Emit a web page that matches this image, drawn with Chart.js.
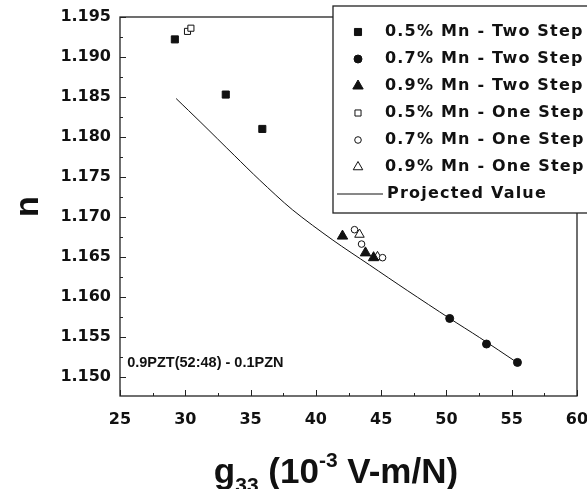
<!DOCTYPE html>
<html>
<head>
<meta charset="utf-8">
<script src="https://cdn.jsdelivr.net/npm/chart.js@4/dist/chart.umd.min.js"></script>
<style>
  html, body { margin: 0; padding: 0; background: #fff; }
  #wrap { width: 587px; height: 489px; }
</style>
</head>
<body>
<div id="wrap"><canvas id="grafica"></canvas></div>
<script>
// values
var nombres = ['0.5% Mn - Two Step', '0.7% Mn - Two Step', '0.9% Mn - Two Step',
               '0.5% Mn - One Step', '0.7% Mn - One Step', '0.9% Mn - One Step', 'Projected Value'];

var g33_two05 = [29.2, 33.1, 35.9];
var n_two05   = [1.1922, 1.1853, 1.1810];
var g33_two07 = [50.25, 53.07, 55.44];
var n_two07   = [1.1573, 1.1541, 1.1518];
var g33_two09 = [42.04, 43.80, 44.42];
var n_two09   = [1.1676, 1.1655, 1.1649];
var g33_one05 = [30.17, 30.43];
var n_one05   = [1.1932, 1.1936];
var g33_one07 = [42.96, 43.50, 45.11];
var n_one07   = [1.1684, 1.1666, 1.1649];
var g33_one09 = [43.34, 44.72];
var n_one09   = [1.1678, 1.1650];
var g33_proj  = [29.3, 31.2, 33.75, 35.7, 38.2, 41.3, 44.1, 47.0, 50.25, 52.55, 55.4];
var n_proj    = [1.1848, 1.1818, 1.1777, 1.1746, 1.1709, 1.1671, 1.1640, 1.1608, 1.1573, 1.1549, 1.1518];

var xTicks = [25, 30, 35, 40, 45, 50, 55, 60];
var yTicks = [1.150, 1.155, 1.160, 1.165, 1.170, 1.175, 1.180, 1.185, 1.190, 1.195];
var nota = '0.9PZT(52:48) - 0.1PZN';

function pares(xs, ys) {
	return xs.map(function(x, i) { return {x: x, y: ys[i]}; });
}

var negro = '#111';

// frame, inward ticks, titles, note and legend
var extras = {
	id: 'extras',
	afterDraw: function(chart) {
		var ctx = chart.ctx;
		var a = chart.chartArea;
		var sx = chart.scales.x, sy = chart.scales.y;
		ctx.save();
		ctx.strokeStyle = '#222';
		ctx.lineWidth = 1.3;
		ctx.strokeRect(a.left, a.top, a.right - a.left, a.bottom - a.top);

		// ticks x
		ctx.lineWidth = 1;
		for (var v = 25; v <= 60.001; v += 2.5) {
			var px = Math.round(sx.getPixelForValue(v)) + 0.5;
			var len = (Math.abs(v / 5 - Math.round(v / 5)) < 1e-6) ? 6 : 3;
			ctx.beginPath(); ctx.moveTo(px, a.bottom); ctx.lineTo(px, a.bottom - len); ctx.stroke();
		}
		// ticks y
		for (var k = 0; k <= 18; k++) {
			var val = 1.150 + k * 0.0025;
			var py = Math.round(sy.getPixelForValue(val)) + 0.5;
			var l2 = (k % 2 === 0) ? 6 : 3;
			ctx.beginPath(); ctx.moveTo(a.left, py); ctx.lineTo(a.left + l2, py); ctx.stroke();
		}

		// note
		ctx.fillStyle = negro;
		ctx.font = 'bold 14.5px "Liberation Sans"';
		ctx.textBaseline = 'middle';
		ctx.textAlign = 'left';
		ctx.fillText(nota, sx.getPixelForValue(25.55), sy.getPixelForValue(1.1517));

		// y title
		ctx.save();
		ctx.translate(29, (a.top + a.bottom) / 2);
		ctx.rotate(-Math.PI / 2);
		ctx.textAlign = 'center';
		ctx.font = 'bold 34px "Liberation Sans"';
		ctx.fillText('n', 0, 0);
		ctx.restore();

		// x title with sub and superscript
		var big = 'bold 35px "Liberation Sans"';
		var small = 'bold 21px "Liberation Sans"';
		var partes = [['g', big, 0], ['33', small, 9], [' (10', big, 0], ['-3', small, -16], [' V-m/N)', big, 0]];
		var total = 0;
		partes.forEach(function(p) { ctx.font = p[1]; total += ctx.measureText(p[0]).width; });
		var cx = 336 - total / 2;
		var base = 483;
		ctx.textBaseline = 'alphabetic';
		partes.forEach(function(p) {
			ctx.font = p[1];
			ctx.fillText(p[0], cx, base + p[2]);
			cx += ctx.measureText(p[0]).width;
		});

		// legend
		var lx = 333, ly = 6, lw = 400, lh = 207;
		ctx.fillStyle = '#fff';
		ctx.fillRect(lx, ly, lw, lh);
		ctx.strokeStyle = '#222';
		ctx.lineWidth = 1.3;
		ctx.strokeRect(lx, ly, lw, lh);
		ctx.font = 'bold 16px "DejaVu Sans"';
		ctx.textBaseline = 'middle';
		chart.data.datasets.forEach(function(ds, i) {
			var ry = 32 + i * 27;
			if (ds.showLine) {
				ctx.strokeStyle = negro; ctx.lineWidth = 1;
				ctx.beginPath(); ctx.moveTo(lx + 4, ry); ctx.lineTo(lx + 50, ry); ctx.stroke();
			} else {
				ctx.fillStyle = ds.backgroundColor; ctx.strokeStyle = ds.borderColor;
				ctx.lineWidth = ds.borderWidth;
				Chart.helpers.drawPoint(ctx, {pointStyle: ds.pointStyle, radius: ds.pointRadius, rotation: 0, borderWidth: ds.borderWidth}, lx + 25, ry);
			}
			ctx.fillStyle = negro;
			ctx.letterSpacing = '1.2px';
			ctx.fillText(ds.label, ds.showLine ? lx + 54 : lx + 52, ry);
			ctx.letterSpacing = '0px';
		});
		ctx.restore();
	}
};

function serie(nombre, xs, ys, estilo, radio, relleno) {
	return {
		label: nombre,
		data: pares(xs, ys),
		showLine: false,
		pointStyle: estilo,
		pointRadius: radio,
		pointHoverRadius: radio,
		borderWidth: 1,
		borderColor: negro,
		backgroundColor: relleno ? negro : '#fff'
	};
}

var ctx = document.getElementById('grafica').getContext('2d');
var chart = new Chart(ctx, {
	type: 'scatter',
	data: {
		datasets: [
			serie(nombres[0], g33_two05, n_two05, 'rect', 5, true),
			serie(nombres[1], g33_two07, n_two07, 'circle', 4, true),
			serie(nombres[2], g33_two09, n_two09, 'triangle', 6, true),
			serie(nombres[3], g33_one05, n_one05, 'rect', 4.3, false),
			serie(nombres[4], g33_one07, n_one07, 'circle', 3.3, false),
			serie(nombres[5], g33_one09, n_one09, 'triangle', 5.5, false),
			{
				label: nombres[6],
				data: pares(g33_proj, n_proj),
				showLine: true,
				pointRadius: 0,
				borderColor: negro,
				borderWidth: 1,
				tension: 0.3,
				fill: false
			}
		]
	},
	options: {
		responsive: true,
		maintainAspectRatio: false,
		animation: false,
		layout: { padding: { top: 17, right: 10, left: 0, bottom: 0 } },
		plugins: { legend: { display: false }, tooltip: { enabled: false } },
		scales: {
			x: {
				type: 'linear', min: 25, max: 60,
				afterFit: function(s) { s.height = 93; s.paddingLeft = 0; s.paddingRight = 0; },
				afterBuildTicks: function(s) { s.ticks = xTicks.map(function(v) { return {value: v}; }); },
				grid: { display: false, drawTicks: false, tickLength: 0 },
				border: { display: false },
				ticks: { font: { family: 'DejaVu Sans', weight: 'bold', size: 16 }, color: negro, padding: 14, maxRotation: 0 }
			},
			y: {
				type: 'linear', min: 1.1476, max: 1.195,
				afterFit: function(s) { s.width = 120; s.paddingTop = 0; s.paddingBottom = 0; },
				afterBuildTicks: function(s) { s.ticks = yTicks.map(function(v) { return {value: v}; }); },
				grid: { display: false, drawTicks: false, tickLength: 0 },
				border: { display: false },
				ticks: {
					font: { family: 'DejaVu Sans', weight: 'bold', size: 16 }, color: negro, padding: 9,
					callback: function(v) { return v.toFixed(3); }
				}
			}
		}
	},
	plugins: [extras]
});
</script>
</body>
</html>
